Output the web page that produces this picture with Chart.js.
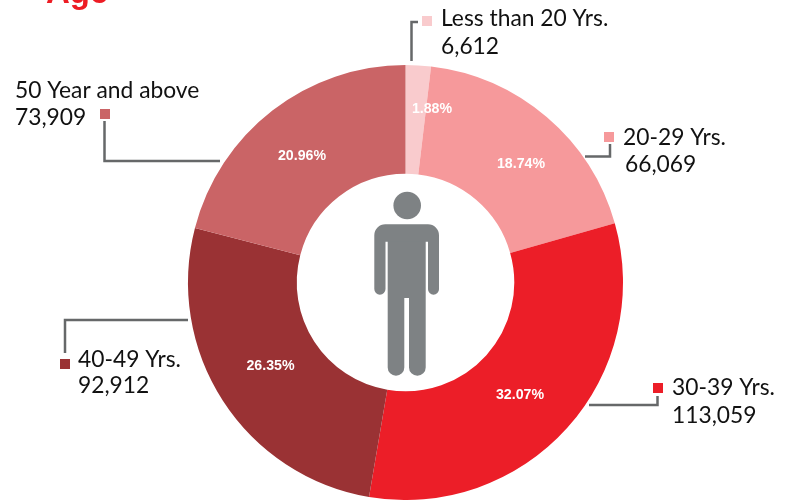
<!DOCTYPE html>
<html>
<head>
<meta charset="utf-8">
<script src="https://cdn.jsdelivr.net/npm/chart.js@4"></script>
<style>
  html, body { margin: 0; padding: 0; background: #fff; }
  canvas { display: block; }
</style>
</head>
<body>
<canvas id="ageChart" width="785" height="500"></canvas>
<script>
const categories = ["Less than 20 Yrs.", "20-29 Yrs.", "30-39 Yrs.", "40-49 Yrs.", "50 Year and above"];
const valueLabels = ["6,612", "66,069", "113,059", "92,912", "73,909"];
const values = [6612, 66069, 113059, 92912, 73909];
const percents = ["1.88%", "18.74%", "32.07%", "26.35%", "20.96%"];
const colors = ["#f9cbcd", "#f6999b", "#ec1e28", "#9a3234", "#ca6466"];

// where the callouts sit on the page
const percentPos = [[432, 109], [521, 164], [520, 395], [270.5, 366], [302, 156]];
const squares = [[422, 16], [604, 132], [653, 383], [60, 359], [100, 109]];
const leaders = [
  [[418, 22], [411.5, 22], [411.5, 61]],
  [[610, 144], [610, 156.5], [585, 156.5]],
  [[657.5, 396], [657.5, 405], [589, 405]],
  [[65, 353], [65, 320], [188, 320]],
  [[104.5, 121], [104.5, 161], [220, 161]]
];
const nameText = [[441, 26], [623, 145], [672, 395], [78, 367], [15, 98]];
const valueText = [[441, 54], [625, 172], [672, 423], [78, 393], [15, 125]];

const labelFont = "22.8px Lato";

function drawPerson(ctx) {
  ctx.fillStyle = "#7e8284";
  ctx.beginPath();
  ctx.arc(407.2, 205.5, 13.8, 0, Math.PI * 2);
  ctx.fill();

  // torso and legs
  ctx.beginPath();
  ctx.rect(387.7, 235, 38, 63);
  ctx.roundRect(387.7, 290, 16.6, 85.7, [0, 0, 8.3, 8.3]);
  ctx.roundRect(409, 290, 16.7, 85.7, [0, 0, 8.3, 8.3]);
  ctx.fill();

  // shoulders and arms
  ctx.beginPath();
  ctx.roundRect(374.3, 224.3, 64.7, 17.4, [11, 11, 0, 0]);
  ctx.roundRect(374.3, 238, 11.2, 56.7, [0, 0, 5.6, 5.6]);
  ctx.roundRect(428, 238, 11, 56.7, [0, 0, 5.5, 5.5]);
  ctx.fill();
}

const calloutsPlugin = {
  id: "callouts",
  afterDraw(chart) {
    const ctx = chart.ctx;
    ctx.save();

    // cropped title
    ctx.fillStyle = "#ed1c24";
    ctx.font = "bold 33px 'Liberation Sans'";
    ctx.textBaseline = "alphabetic";
    ctx.textAlign = "left";
    ctx.fillText("Age", 46, 3);

    // percents on the slices
    ctx.fillStyle = "#ffffff";
    ctx.font = "bold 14.2px 'Liberation Sans'";
    ctx.textAlign = "center";
    ctx.textBaseline = "middle";
    percents.forEach((p, i) => {
      ctx.fillText(p, percentPos[i][0], percentPos[i][1]);
    });

    // leader lines
    ctx.strokeStyle = "#666869";
    ctx.lineWidth = 2.5;
    leaders.forEach(pts => {
      ctx.beginPath();
      pts.forEach((pt, j) => j ? ctx.lineTo(pt[0], pt[1]) : ctx.moveTo(pt[0], pt[1]));
      ctx.stroke();
    });

    // legend squares and text
    ctx.textAlign = "left";
    ctx.textBaseline = "alphabetic";
    ctx.font = labelFont;
    categories.forEach((name, i) => {
      ctx.fillStyle = colors[i];
      ctx.fillRect(squares[i][0], squares[i][1], 10, 10);
      ctx.fillStyle = "#111111";
      ctx.fillText(name, nameText[i][0], nameText[i][1]);
      ctx.fillText(valueLabels[i], valueText[i][0], valueText[i][1]);
    });

    drawPerson(ctx);
    ctx.restore();
  }
};

new Chart(document.getElementById("ageChart"), {
  type: "doughnut",
  data: {
    labels: categories,
    datasets: [{
      data: values,
      backgroundColor: colors,
      borderWidth: 0
    }]
  },
  options: {
    responsive: false,
    animation: false,
    cutout: "50%",
    layout: { padding: { top: 65, bottom: 0, left: 188, right: 162 } },
    plugins: {
      legend: { display: false },
      tooltip: { enabled: false },
      title: { display: false }
    }
  },
  plugins: [calloutsPlugin]
});
</script>
</body>
</html>
